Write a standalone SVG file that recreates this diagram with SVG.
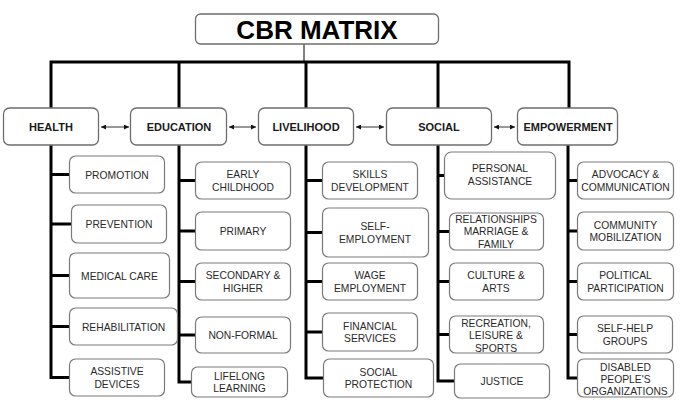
<svg xmlns="http://www.w3.org/2000/svg" width="685" height="409" viewBox="0 0 685 409">
<defs>
<style>
.box{fill:#fff;stroke:#7a7a7a;stroke-width:1.2}
.cat{fill:#fff;stroke:#6e6e6e;stroke-width:1.3}
.t{font-family:"Liberation Sans",Arial,sans-serif;font-size:10.3px;fill:#2a2a2a;text-anchor:middle}
.ct{font-family:"Liberation Sans",Arial,sans-serif;font-size:11px;font-weight:bold;fill:#1a1a1a;text-anchor:middle}
.title{font-family:"Liberation Sans",Arial,sans-serif;font-size:26px;font-weight:bold;fill:#000;text-anchor:middle}
.thick{fill:none;stroke:#000;stroke-width:3;stroke-linecap:square}
.thin{fill:none;stroke:#000;stroke-width:1}
.arr{fill:none;stroke:#333;stroke-width:1;marker-start:url(#ah);marker-end:url(#ah)}
</style>
<marker id="ah" viewBox="0 0 6 6" refX="6" refY="3" markerWidth="5" markerHeight="5" markerUnits="userSpaceOnUse" orient="auto-start-reverse">
<path d="M0,0 L6,3 L0,6 z" fill="#111"/>
</marker>
</defs>

<g id="connectors">
<path class="thin" d="M304,44 V62"/>
<path class="thick" d="M51,107 V62 H569 V107 M179,62 V107 M306,62 V107 M438,62 V107"/>
<!-- HEALTH -->
<path class="thick" d="M51,145 V377.5 H69 M51,174.5 H69 M51,224 H71 M51,275.5 H69 M51,326.5 H69"/>
<!-- EDUCATION -->
<path class="thick" d="M179,145 V382 H191 M179,180.5 H195 M179,231 H195 M179,281.5 H195 M179,335 H195"/>
<!-- LIVELIHOOD -->
<path class="thick" d="M306,145 V378 H323 M306,180.5 H322 M306,232.5 H322 M306,281.5 H322 M306,332 H322"/>
<!-- SOCIAL -->
<path class="thick" d="M438,145 V381 H454 M438,175.5 H444 M438,231.5 H449 M438,281.5 H449 M438,334.5 H449"/>
<!-- EMPOWERMENT -->
<path class="thick" d="M568,145 V378 H577 M568,180.5 H577 M568,231 H577 M568,281.5 H577 M568,334.5 H577"/>
<path class="arr" d="M101,127 H129"/>
<path class="arr" d="M229,127 H256"/>
<path class="arr" d="M356,127 H384"/>
<path class="arr" d="M494,127 H515"/>
</g>

<g id="title"><rect class="cat" x="195.5" y="14" width="243" height="30" rx="5"/><text class="title" x="317" y="38.5">CBR MATRIX</text></g>

<g id="health"><rect class="cat" x="3.5" y="108" width="95" height="37" rx="6"/><text class="ct" x="51" y="131">HEALTH</text></g>
<g id="education"><rect class="cat" x="130.5" y="108" width="96" height="37" rx="6"/><text class="ct" x="179" y="131">EDUCATION</text></g>
<g id="livelihood"><rect class="cat" x="258.5" y="108" width="95" height="37" rx="6"/><text class="ct" x="306" y="131">LIVELIHOOD</text></g>
<g id="social"><rect class="cat" x="386.5" y="108" width="105" height="37" rx="6"/><text class="ct" x="439" y="131">SOCIAL</text></g>
<g id="empowerment"><rect class="cat" x="517.5" y="108" width="100" height="37" rx="6"/><text class="ct" x="568" y="131">EMPOWERMENT</text></g>

<g id="promotion"><rect class="box" x="69.5" y="156" width="95" height="37" rx="6"/><text class="t" x="117" y="178.5">PROMOTION</text></g>
<g id="prevention"><rect class="box" x="71.5" y="205" width="95" height="38" rx="6"/><text class="t" x="119" y="228">PREVENTION</text></g>
<g id="medical-care"><rect class="box" x="69.5" y="253" width="100" height="45" rx="6"/><text class="t" x="119.5" y="279.5">MEDICAL CARE</text></g>
<g id="rehabilitation"><rect class="box" x="69.5" y="308" width="108" height="37" rx="6"/><text class="t" x="123.5" y="330.5">REHABILITATION</text></g>
<g id="assistive-devices"><rect class="box" x="69.5" y="359" width="95" height="37" rx="6"/><text class="t" x="117" y="375">ASSISTIVE</text><text class="t" x="117" y="387.5">DEVICES</text></g>

<g id="early-childhood"><rect class="box" x="195.5" y="162" width="95" height="37" rx="6"/><text class="t" x="243" y="178">EARLY</text><text class="t" x="243" y="190.5">CHILDHOOD</text></g>
<g id="primary"><rect class="box" x="195.5" y="212" width="95" height="38" rx="6"/><text class="t" x="243" y="235">PRIMARY</text></g>
<g id="secondary"><rect class="box" x="195.5" y="263" width="95" height="37" rx="6"/><text class="t" x="243" y="279">SECONDARY &amp;</text><text class="t" x="243" y="291.5">HIGHER</text></g>
<g id="non-formal"><rect class="box" x="195.5" y="317" width="95" height="36" rx="6"/><text class="t" x="243" y="339">NON-FORMAL</text></g>
<g id="lifelong-learning"><rect class="box" x="191.5" y="367" width="96" height="30" rx="6"/><text class="t" x="239.5" y="379.5">LIFELONG</text><text class="t" x="239.5" y="392">LEARNING</text></g>

<g id="skills-development"><rect class="box" x="322.5" y="162" width="95" height="37" rx="6"/><text class="t" x="370" y="178">SKILLS</text><text class="t" x="370" y="190.5">DEVELOPMENT</text></g>
<g id="self-employment"><rect class="box" x="322.5" y="208" width="106" height="49" rx="6"/><text class="t" x="375" y="230">SELF-</text><text class="t" x="375" y="242.5">EMPLOYMENT</text></g>
<g id="wage-employment"><rect class="box" x="322.5" y="263" width="95" height="37" rx="6"/><text class="t" x="370" y="279">WAGE</text><text class="t" x="370" y="291.5">EMPLOYMENT</text></g>
<g id="financial-services"><rect class="box" x="322.5" y="313" width="95" height="38" rx="6"/><text class="t" x="370" y="329.5">FINANCIAL</text><text class="t" x="370" y="342">SERVICES</text></g>
<g id="social-protection"><rect class="box" x="323.5" y="359" width="110" height="38" rx="6"/><text class="t" x="378.5" y="375.5">SOCIAL</text><text class="t" x="378.5" y="388">PROTECTION</text></g>

<g id="personal-assistance"><rect class="box" x="444.5" y="152" width="111" height="47" rx="7"/><text class="t" x="500" y="172">PERSONAL</text><text class="t" x="500" y="184.5">ASSISTANCE</text></g>
<g id="relationships"><rect class="box" x="449.5" y="213" width="94" height="37" rx="6"/><text class="t" x="496" y="222.5">RELATIONSHIPS</text><text class="t" x="496" y="235">MARRIAGE &amp;</text><text class="t" x="496" y="247.5">FAMILY</text></g>
<g id="culture-arts"><rect class="box" x="449.5" y="263" width="94" height="37" rx="6"/><text class="t" x="496" y="279">CULTURE &amp;</text><text class="t" x="496" y="291.5">ARTS</text></g>
<g id="recreation"><rect class="box" x="449.5" y="316" width="94" height="37" rx="6"/><text class="t" x="496" y="326.5">RECREATION,</text><text class="t" x="496" y="339">LEISURE &amp;</text><text class="t" x="496" y="351.5">SPORTS</text></g>
<g id="justice"><rect class="box" x="454.5" y="364" width="95" height="34" rx="6"/><text class="t" x="502" y="385">JUSTICE</text></g>

<g id="advocacy"><rect class="box" x="577.5" y="162" width="96" height="37" rx="6"/><text class="t" x="625.5" y="178">ADVOCACY &amp;</text><text class="t" x="625.5" y="190.5">COMMUNICATION</text></g>
<g id="community-mobilization"><rect class="box" x="577.5" y="212" width="96" height="38" rx="6"/><text class="t" x="625.5" y="228.5">COMMUNITY</text><text class="t" x="625.5" y="241">MOBILIZATION</text></g>
<g id="political-participation"><rect class="box" x="577.5" y="263" width="96" height="37" rx="6"/><text class="t" x="625.5" y="279">POLITICAL</text><text class="t" x="625.5" y="291.5">PARTICIPATION</text></g>
<g id="self-help-groups"><rect class="box" x="577.5" y="316" width="95" height="37" rx="6"/><text class="t" x="625" y="332">SELF-HELP</text><text class="t" x="625" y="344.5">GROUPS</text></g>
<g id="dpo"><rect class="box" x="577.5" y="359" width="96" height="38" rx="6"/><text class="t" x="625.5" y="370.5">DISABLED</text><text class="t" x="625.5" y="382.5">PEOPLE'S</text><text class="t" x="625.5" y="394.5">ORGANIZATIONS</text></g>
</svg>
